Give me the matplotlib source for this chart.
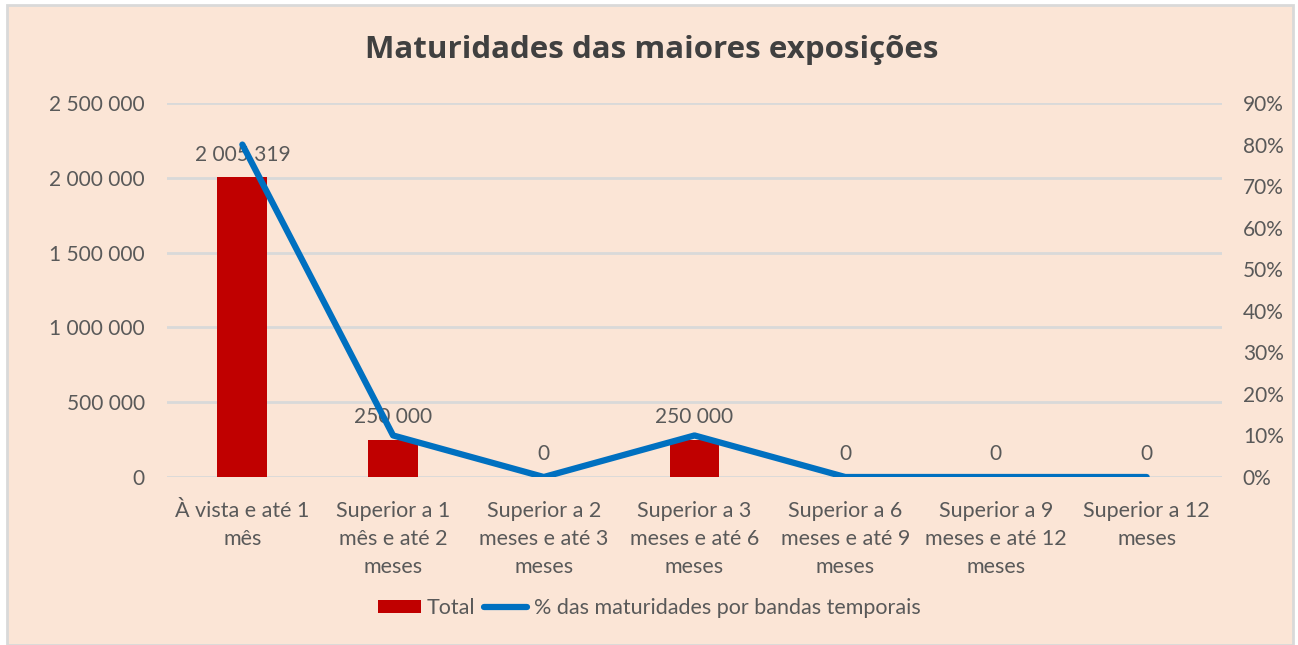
import matplotlib
matplotlib.use('Agg')
import matplotlib.pyplot as plt
from matplotlib.patches import Rectangle
from matplotlib.ticker import FuncFormatter, PercentFormatter

# data
categories = ['À vista e até 1\nmês', 'Superior a 1\nmês e até 2\nmeses',
              'Superior a 2\nmeses e até 3\nmeses', 'Superior a 3\nmeses e até 6\nmeses',
              'Superior a 6\nmeses e até 9\nmeses', 'Superior a 9\nmeses e até 12\nmeses',
              'Superior a 12\nmeses']
totals = [2005319, 250000, 0, 250000, 0, 0, 0]
pct = [80.0, 10.0, 0.0, 10.0, 0.0, 0.0, 0.0]

bg = '#FBE5D6'
bar_color = '#C00000'
line_color = '#0070C0'
text_color = '#595959'

plt.rcParams['font.family'] = ['Lato', 'DejaVu Sans']

fig = plt.figure(figsize=(12.98, 6.45), dpi=100)
fig.patch.set_facecolor('white')
fig.patches.append(Rectangle((7 / 1298, 0), 1286 / 1298, 640 / 645, transform=fig.transFigure,
                             facecolor=bg, edgecolor='#D9D9D9', lw=2, zorder=-10))

ax = fig.add_axes([167 / 1298, 1 - 477 / 645, 1055 / 1298, 374 / 645])
ax.set_facecolor('none')
x = list(range(len(categories)))
ax.bar(x, totals, width=0.33, color=bar_color, zorder=2, label='Total')
ax.set_xlim(-0.5, len(categories) - 0.5)
ax.set_ylim(0, 2500000)
ax.set_yticks(range(0, 2500001, 500000))
ax.yaxis.set_major_formatter(FuncFormatter(lambda v, p: f'{int(v):,}'.replace(',', ' ')))
ax.grid(axis='y', color='#D9D9D9', lw=2, zorder=0)
ax.set_xticks(x)
ax.set_xticklabels(categories, fontsize=15.5, color=text_color, linespacing=1.5)
for s in ax.spines.values():
    s.set_visible(False)
ax.tick_params(length=0, labelsize=15, labelcolor=text_color)
ax.tick_params(axis='y', pad=16)
ax.tick_params(axis='x', pad=17, labelsize=15.5)

for xi, v in zip(x, totals):
    ax.annotate(f'{v:,}'.replace(',', ' '), (xi, v), xytext=(0, 9), textcoords='offset points',
                ha='center', va='bottom', fontsize=15, color=text_color, zorder=5)

ax2 = ax.twinx()
ax2.plot(x, pct, color=line_color, lw=4.5, solid_capstyle='round', zorder=3,
         label='% das maturidades por bandas temporais')
ax2.set_ylim(0, 90)
ax2.set_yticks(range(0, 91, 10))
ax2.yaxis.set_major_formatter(PercentFormatter(decimals=0))
for s in ax2.spines.values():
    s.set_visible(False)
ax2.tick_params(length=0, labelsize=15, labelcolor=text_color, pad=15)

fig.text(0.502, 1 - 50 / 645, 'Maturidades das maiores exposições', ha='center', va='center',
         fontsize=22.5, fontweight='bold', color='#404040', family='Open Sans')

h1, l1 = ax.get_legend_handles_labels()
h2, l2 = ax2.get_legend_handles_labels()
fig.legend(h1 + h2, l1 + l2, loc='center', bbox_to_anchor=(0.5, 1 - 608 / 645), ncol=2,
           frameon=False, fontsize=15.5, labelcolor=text_color, handlelength=2.0,
           handleheight=0.6, handletextpad=0.3, columnspacing=0.4)

fig.savefig('out.png', dpi=100, facecolor=fig.get_facecolor())
